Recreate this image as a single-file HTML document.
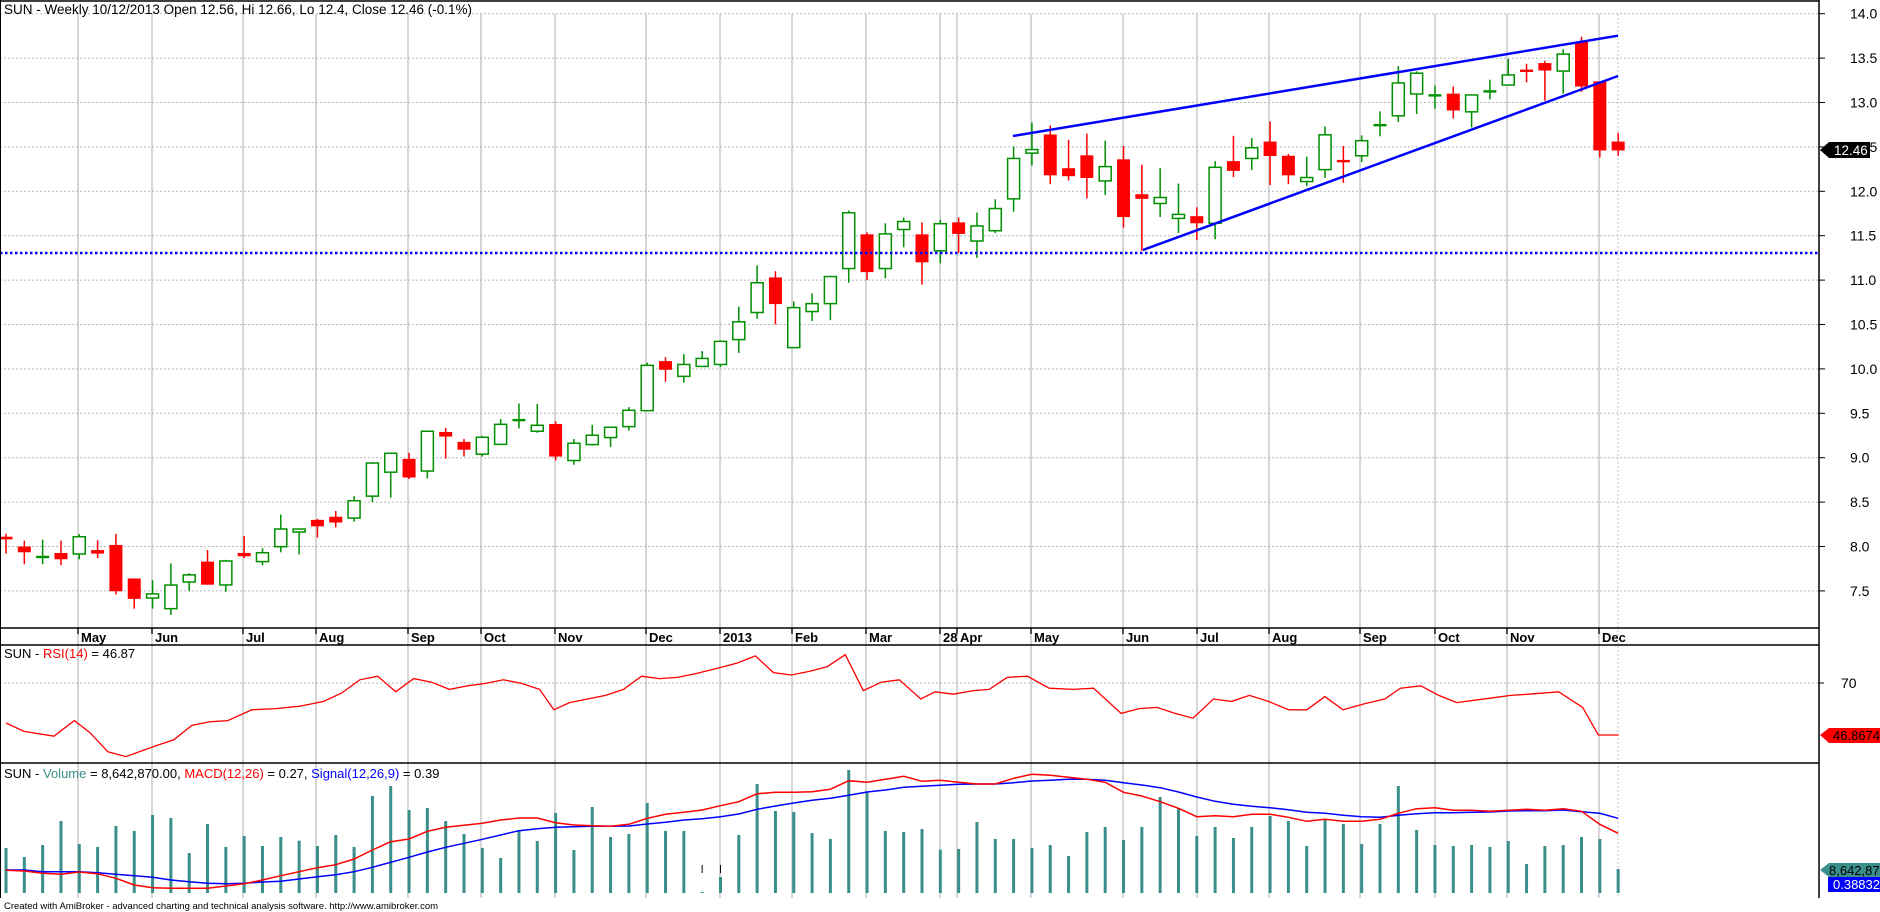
<!DOCTYPE html>
<html><head><meta charset="utf-8"><style>
html,body{margin:0;padding:0;background:#fff;width:1880px;height:912px;overflow:hidden}
svg{display:block;font-family:"Liberation Sans",Arial,sans-serif}
</style></head><body>
<svg id="c" width="1880" height="912" xmlns="http://www.w3.org/2000/svg">
<rect width="1880" height="912" fill="#fff"/>
<g id="grid"></g>
<g id="vol"></g>
<g id="cand"></g>
<g id="ov"></g>
<!-- trendlines -->
<line x1="0" y1="253" x2="1819" y2="253" stroke="#0000ff" stroke-width="2.5" stroke-dasharray="2.5,2.5"/>
<line x1="1013" y1="136" x2="1618" y2="35.7" stroke="#0000ff" stroke-width="2.5"/>
<line x1="1143" y1="250" x2="1618" y2="76" stroke="#0000ff" stroke-width="2.5"/>
<!-- frame -->
<line x1="0.5" y1="0" x2="0.5" y2="898" stroke="#000"/>
<line x1="0" y1="1" x2="1819" y2="1" stroke="#000" stroke-width="1.5"/>
<line x1="1819" y1="0" x2="1819" y2="898" stroke="#000" stroke-width="1.5"/>
<line x1="0" y1="628" x2="1819" y2="628" stroke="#000" stroke-width="1.5"/>
<line x1="0" y1="645" x2="1819" y2="645" stroke="#000" stroke-width="1.5"/>
<line x1="0" y1="763" x2="1819" y2="763" stroke="#000" stroke-width="1.5"/>
<g id="dl" font-size="13" font-weight="bold" fill="#000"></g>
<g id="yl" font-size="14" fill="#000"></g>
<text x="4" y="14" font-size="13.5" fill="#000">SUN - Weekly 10/12/2013 Open 12.56, Hi 12.66, Lo 12.4, Close 12.46 (-0.1%)</text>
<text x="4" y="658" font-size="13" fill="#000">SUN - <tspan fill="#ff0000">RSI(14)</tspan> = 46.87</text>
<text x="4" y="778" font-size="13" fill="#000">SUN - <tspan fill="#3a8f8a">Volume</tspan> = 8,642,870.00, <tspan fill="#ff0000">MACD(12,26)</tspan> = 0.27, <tspan fill="#0000ff">Signal(12,26,9)</tspan> = 0.39</text>
<text x="4" y="909" font-size="9.5" fill="#000">Created with AmiBroker - advanced charting and technical analysis software. http://www.amibroker.com</text>
<!-- right labels -->
<polygon points="1820,150 1829,142 1870,142 1870,158 1829,158" fill="#000"/>
<text x="1834" y="155" font-size="13.5" fill="#fff">12.46</text>
<text x="1841" y="688" font-size="14">70</text>
<line x1="1819" y1="683" x2="1824" y2="683" stroke="#000"/>
<polygon points="1820,735 1829,728 1880,728 1880,743 1829,743" fill="#ff0000"/>
<text x="1833" y="740" font-size="13" fill="#000">46.8674</text>
<polygon points="1820,870 1829,863 1880,863 1880,877 1829,877" fill="#3a8f8a"/>
<text x="1829" y="875" font-size="13" fill="#000">8,642,870</text>
<rect x="1828" y="877" width="52" height="15" fill="#0000ff"/>
<text x="1833" y="889" font-size="13" fill="#fff">0.38832</text>
</svg>
<script>
var NS="http://www.w3.org/2000/svg";
function el(p,t,a){var e=document.createElementNS(NS,t);for(var k in a)e.setAttribute(k,a[k]);document.getElementById(p).appendChild(e);return e;}
function Y(p){return 13.7+(14-p)*88.8;}
function X(i){return 6+18.32*i;}
// grid
var months=[[78,"May"],[152,"Jun"],[243,"Jul"],[316,"Aug"],[408,"Sep"],[481,"Oct"],[555,"Nov"],[646,"Dec"],[720,"2013"],[792,"Feb"],[866,"Mar"],[940,"28"],[957,"Apr"],[1031,"May"],[1123,"Jun"],[1197,"Jul"],[1269,"Aug"],[1360,"Sep"],[1435,"Oct"],[1507,"Nov"],[1599,"Dec"]];
months.forEach(function(m){
 el("grid","line",{x1:m[0],y1:14,x2:m[0],y2:898,stroke:"#c0c0c0","stroke-width":1.3});
 el("grid","line",{x1:m[0],y1:628,x2:m[0],y2:634,stroke:"#000","stroke-width":1.3});
 var t=el("dl","text",{x:m[0]+3,y:642});t.textContent=m[1];
});
el("grid","line",{x1:1618,y1:14,x2:1618,y2:898,stroke:"#c0c0c0","stroke-dasharray":"2,2"});
for(var p=14;p>=7.5;p-=0.5){var y=Y(p);
 el("grid","line",{x1:0,y1:y,x2:1819,y2:y,stroke:"#b8b8b8","stroke-dasharray":"2,2"});
 el("grid","line",{x1:1819,y1:y,x2:1825,y2:y,stroke:"#000"});
 var t=el("yl","text",{x:1850,y:y+5});t.textContent=p.toFixed(1);}
el("grid","line",{x1:0,y1:683,x2:1819,y2:683,stroke:"#b8b8b8","stroke-dasharray":"2,2"});
// candles O,H,L,C
var D=[[8.11,8.144,7.92,8.08],[8.0,8.066,7.80,7.935],[7.871,8.077,7.80,7.893],[7.927,8.066,7.79,7.856],[7.916,8.14,7.856,8.11],[7.96,8.07,7.87,7.92],[8.017,8.14,7.46,7.496],[7.64,7.64,7.30,7.41],[7.42,7.62,7.30,7.466],[7.30,7.81,7.23,7.566],
[7.60,7.70,7.50,7.68],[7.83,7.96,7.57,7.57],[7.567,7.85,7.49,7.837],[7.927,8.12,7.87,7.89],[7.83,7.98,7.79,7.93],[7.998,8.36,7.935,8.197],[8.163,8.197,7.91,8.197],[8.30,8.31,8.10,8.227],[8.335,8.40,8.215,8.27],[8.32,8.567,8.28,8.515],
[8.567,8.95,8.50,8.94],[8.837,9.05,8.55,9.05],[8.987,9.055,8.76,8.777],[8.85,9.298,8.766,9.298],[9.29,9.335,8.99,9.238],[9.178,9.21,9.013,9.09],[9.04,9.245,9.013,9.23],[9.15,9.436,9.15,9.376],[9.41,9.61,9.33,9.436],[9.298,9.605,9.28,9.365],
[9.38,9.41,8.97,9.013],[8.968,9.21,8.92,9.163],[9.148,9.37,9.137,9.253],[9.227,9.343,9.12,9.343],[9.35,9.57,9.305,9.534],[9.53,10.07,9.53,10.04],[10.088,10.133,9.856,9.99],[9.916,10.167,9.845,10.05],[10.028,10.2,10.028,10.118],[10.05,10.32,10.02,10.31],
[10.33,10.7,10.18,10.53],[10.635,11.167,10.564,10.97],[11.03,11.1,10.5,10.73],[10.24,10.76,10.234,10.69],[10.646,10.85,10.54,10.735],[10.735,11.04,10.55,11.04],[11.13,11.784,10.97,11.758],[11.515,11.537,11.0,11.09],[11.13,11.64,11.02,11.52],[11.57,11.705,11.37,11.66],
[11.515,11.65,10.95,11.2],[11.33,11.68,11.19,11.635],[11.65,11.705,11.305,11.52],[11.44,11.76,11.25,11.61],[11.556,11.91,11.53,11.806],[11.915,12.506,11.77,12.37],[12.43,12.775,12.29,12.47],[12.64,12.74,12.08,12.18],[12.26,12.58,12.12,12.17],[12.405,12.65,11.92,12.15],
[12.117,12.57,11.96,12.278],[12.36,12.51,11.59,11.71],[11.967,12.30,11.33,11.915],[11.863,12.26,11.71,11.93],[11.695,12.087,11.53,11.74],[11.72,11.82,11.45,11.64],[11.64,12.34,11.46,12.27],[12.34,12.625,12.16,12.23],[12.37,12.6,12.24,12.49],[12.56,12.786,12.07,12.397],
[12.4,12.42,12.08,12.18],[12.11,12.39,12.06,12.155],[12.244,12.73,12.15,12.636],[12.35,12.51,12.095,12.33],[12.4,12.63,12.33,12.57],[12.74,12.9,12.62,12.75],[12.85,13.41,12.78,13.22],[13.096,13.35,12.87,13.33],[13.075,13.19,12.93,13.085],[13.1,13.18,12.82,12.91],
[12.895,13.085,12.72,13.085],[13.12,13.257,13.036,13.13],[13.197,13.49,13.197,13.31],[13.36,13.436,13.227,13.354],[13.444,13.47,13.02,13.36],[13.354,13.6,13.1,13.545],[13.686,13.74,13.12,13.18],[13.238,13.24,12.38,12.46],[12.56,12.66,12.40,12.46]];
D.forEach(function(d,i){var x=X(i),o=d[0],h=d[1],l=d[2],c=d[3];var up=c>=o;var col=up?"#009000":"#ff0000";
 el("cand","line",{x1:x,y1:Y(h),x2:x,y2:Y(l),stroke:col,"stroke-width":1.5});
 var t=Y(Math.max(o,c)),b=Y(Math.min(o,c));
 if(b-t<2.5){el("cand","rect",{x:x-6.5,y:(t+b)/2-1.2,width:13,height:2.4,fill:col});}
 else if(up){el("cand","rect",{x:x-6,y:t,width:12,height:b-t,fill:"#fff",stroke:col,"stroke-width":1.5});}
 else{el("cand","rect",{x:x-6.5,y:t,width:13,height:b-t,fill:col});}
});
// volume
var V1=[264,291,255,183,252,261,198,213,165,174,279,192,261,228,258,231,242,258,225,261,108,78,150,144,183,222,264,294,210,243,159,270,141,231,222,129,213,213,396,351,225,72,153,156,219];
var V2=[237,30,95,213,216,207,269,267,186,237,237,264,255,288,216,201,240,201,111,144,228,201,234,201,168,183,258,180,192,252,192,78,210,255,258,255,261,243,312,258,255,231,237,327];
var V=V1.concat(V2);
V.forEach(function(v,i){var x=X(i);var top=760+v/3;el("vol","rect",{x:x-1.5,y:top,width:3,height:893-top,fill:"#3a8f8a"});});
el("vol","line",{x1:X(38),y1:865,x2:X(38),y2:873,stroke:"#000","stroke-width":1});
el("vol","line",{x1:X(39),y1:865,x2:X(39),y2:873,stroke:"#000","stroke-width":1});
function pl(arr,col){var pts=arr.map(function(y,i){return X(i)+","+(760+y/3).toFixed(1);}).join(" ");el("ov","polyline",{points:pts,fill:"none",stroke:col,"stroke-width":1.5});}
var R1=[331,333,340,343,336,341,355,375,383,385,385,385,378,371,360,347,335,323,314,297,270,245,237,214,202,196,190,180,174,174,188,195,197,199,193,175,163,157,150,137,125,101,97,97,95];
var R2=[88,62,67,58,49,64,61,67,72,72,55,43,46,52,58,67,97,108,125,145,170,167,170,163,163,172,184,178,184,184,178,160,146,143,151,151,154,151,148,151,146,154,193,220];
var B1=[330,330,335,335,335,338,343,347,352,360,365,370,371,370,366,364,357,350,344,335,322,307,292,276,262,250,238,225,212,206,202,200,199,199,198,192,187,180,176,170,162,148,138,129,121];
var B2=[115,106,96,90,82,79,76,73,72,72,68,63,61,58,58,61,68,75,83,96,111,124,133,139,143,149,157,160,166,170,172,166,161,158,158,157,156,153,152,152,150,155,160,175];
pl(B1.concat(B2),"#0000ff");pl(R1.concat(R2),"#ff0000");
// RSI
var RS=[[5,603],[20,610],[45,614],[62,601],[75,611],[90,627],[105,631],[130,622],[145,617],[160,605],[175,602],[190,601],[210,592],[230,591],[250,589],[270,585],[285,578],[300,567],[315,564],[330,577],[345,566],[360,569],[375,575],[390,572],[405,570],[420,567],[435,570],[450,575],[462,592],[475,586],[490,583],[505,580],[520,575],[535,564],[550,566],[565,565],[580,562],[600,557],[615,553],[630,547],[645,561],[660,563],[675,560],[690,556],[705,546],[720,576],[735,569],[750,567],[768,583],[780,577],[795,579],[812,576],[825,575],[840,565],[857,564],[875,574],[895,575],[912,574],[935,595],[950,591],[965,590],[980,595],[995,599],[1012,583],[1027,585],[1042,580],[1058,585],[1075,592],[1090,592],[1105,581],[1120,592],[1138,587],[1155,583],[1168,574],[1185,572],[1200,580],[1215,586],[1230,584],[1245,582],[1260,580],[1275,579],[1300,577],[1320,590],[1333,613],[1350,613]];
el("ov","polyline",{points:RS.map(function(p){return (p[0]*1.199).toFixed(1)+","+(p[1]*1.199).toFixed(1);}).join(" "),fill:"none",stroke:"#ff0000","stroke-width":1.3});
</script>
</body></html>
